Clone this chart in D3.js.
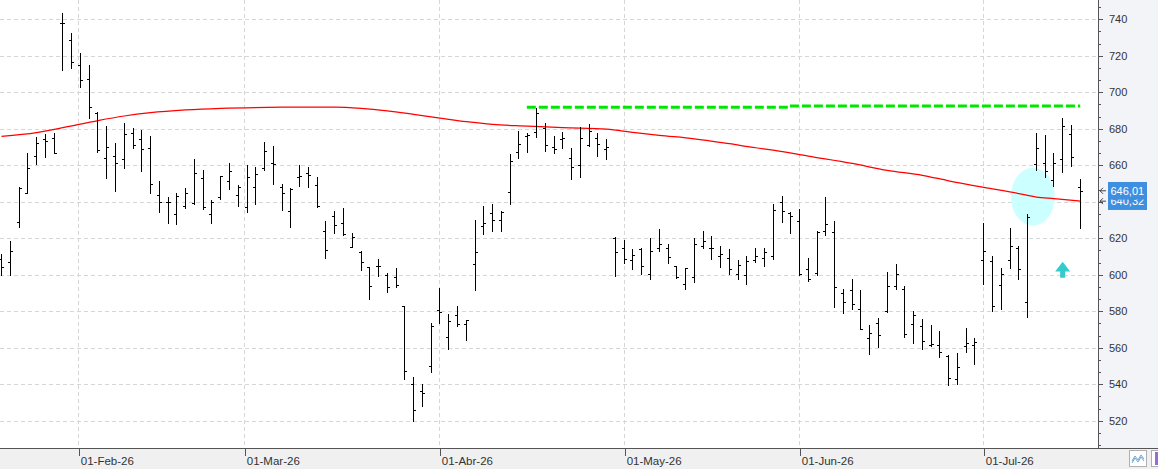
<!DOCTYPE html>
<html><head><meta charset="utf-8">
<script src="https://cdn.jsdelivr.net/npm/d3@7"></script>
<style>html,body{margin:0;padding:0;background:#f0f0f0;overflow:hidden}svg{display:block}</style>
</head><body><svg id="c" width="1158" height="469"></svg>
<script>
// ---- data ----
const opens=[608.4,606.8,629.1,645.0,665.1,674.2,674.8,737.8,728.7,714.8,707.1,688.5,663.8,665.1,663.3,677.5,674.2,669.6,643.7,639.7,633.3,637.9,639.5,652.8,633.3,642.8,651.4,643.5,637.1,647.9,658.3,661.1,647.9,634.9,653.6,655.8,649.0,623.8,632.2,628.2,615.2,612.3,604.2,605.0,599.7,598.9,583.0,539.9,536.3,549.8,580.7,565.7,577.9,573.2,605.9,626.5,634.0,629.8,645.2,667.1,676.0,678.1,680.6,670.2,674.6,664.0,660.1,670.9,675.1,668.9,619.9,614.6,608.1,613.9,600.4,614.6,614.8,604.8,594.9,598.8,615.6,614.8,610.3,609.2,600.4,599.8,608.1,609.0,610.3,640.0,634.0,629.4,603.3,600.8,624.1,623.4,590.2,591.4,581.0,565.1,573.7,579.9,594.0,592.0,573.0,571.9,561.7,561.3,555.4,542.7,560.9,561.5,608.1,607.5,594.2,608.3,614.6,585.0,660.5,661.4,651.9,663.6,677.1,648.1];
const highs=[611.4,618.7,648.3,666.7,675.7,677.0,677.5,743.7,732.7,721.7,715.0,689.0,681.5,672.0,683.2,680.6,679.3,676.0,651.4,642.4,645.0,647.4,663.3,657.4,641.0,654.1,661.1,649.0,660.1,659.1,672.8,670.7,649.9,647.7,660.1,659.2,653.6,629.4,634.9,636.6,623.1,612.8,604.2,608.6,601.1,603.7,583.0,543.9,539.9,573.5,592.9,578.5,582.9,575.4,630.0,637.7,638.9,634.9,666.2,678.8,677.7,691.2,683.4,675.9,678.2,669.5,681.0,682.6,677.9,674.2,620.5,619.0,614.1,614.5,619.9,625.1,616.8,604.8,603.5,619.9,624.0,621.2,615.6,614.3,608.1,610.3,614.5,614.5,638.8,643.2,634.6,636.0,609.2,624.1,642.6,629.4,592.2,597.8,591.6,572.4,576.1,601.5,606.1,594.0,580.3,575.7,572.4,569.1,556.2,557.3,570.8,565.3,628.5,610.3,603.9,625.6,615.7,633.1,677.9,676.8,666.7,686.1,682.3,652.5];
const lows=[599.8,599.8,626.3,644.6,660.7,664.7,666.5,712.2,713.5,703.1,686.1,667.5,653.2,646.1,658.7,669.6,657.0,645.0,634.6,628.5,628.0,636.8,638.8,635.8,628.5,641.5,647.2,637.9,634.6,638.6,657.6,649.9,635.7,626.3,648.8,648.1,636.9,609.3,623.1,621.6,615.0,602.4,586.9,599.1,590.7,593.5,543.0,520.0,528.2,546.9,573.7,559.5,572.1,564.4,591.8,622.5,624.1,624.1,638.9,664.2,667.5,675.3,668.0,666.9,669.6,652.7,653.8,670.7,665.3,663.6,599.3,606.2,603.0,600.2,597.8,613.2,606.2,598.0,592.4,596.2,614.8,608.8,604.0,600.2,597.5,594.7,606.8,605.0,608.8,629.1,623.1,599.8,596.6,600.0,622.0,582.5,579.2,581.0,570.4,556.7,560.4,579.6,592.0,566.0,562.8,559.5,560.9,555.1,539.7,540.1,557.6,551.2,594.9,580.3,581.2,603.5,597.8,577.0,657.4,653.8,648.8,656.5,659.8,625.8];
const closes=[604.4,613.0,647.4,658.3,672.0,673.1,666.5,737.8,716.6,706.6,691.8,668.4,670.2,661.1,677.0,670.9,668.7,649.7,639.7,639.7,643.2,644.8,655.6,637.3,639.7,654.1,656.9,648.3,653.6,655.2,667.6,660.7,644.8,647.0,654.1,654.5,637.7,613.6,627.1,622.3,620.5,607.0,593.8,605.0,593.3,594.5,547.2,525.8,535.0,571.9,579.7,574.6,573.0,575.0,612.3,628.4,629.8,634.4,662.2,671.5,676.4,688.5,670.9,669.1,674.9,658.9,675.1,678.8,671.7,669.8,612.3,608.6,611.0,604.6,613.0,616.7,609.7,598.6,603.5,616.8,618.5,614.8,611.2,603.1,605.1,607.3,610.1,612.3,635.3,635.1,632.4,600.2,597.5,623.2,627.8,593.1,584.9,584.1,570.4,568.2,566.8,593.8,600.2,567.3,577.7,563.5,562.0,557.5,543.2,549.4,562.6,563.3,613.0,582.9,600.4,615.6,603.3,631.6,669.5,656.7,661.4,681.5,664.5,646.01];
// moving average (bar index -> value)
const maIdx=[1,5,10,12,15,18,22,26,33,39,42,45,48,51,54,57,61,65,70,73,76,80,84,87,89,93,98,102,106,109,113,117,119,121,124];
const maVal=[675.8,677.9,682.6,684.5,687.0,688.8,690.3,691.2,691.8,691.9,691.2,689.8,687.9,685.9,683.9,682.4,681.5,680.6,679.8,678.0,676.4,674.5,671.8,669.6,668.3,665.0,661.0,657.2,654.5,651.5,647.9,644.5,642.6,641.7,640.32];
// resistance (green dashed) segments
const resFrom=[60.9,90.9], resTo=[90.9,124], resVal=[691.8,692.5];
// month ticks (position in bar index space)
const monthLabels=["01-Feb-26","01-Mar-26","01-Abr-26","01-May-26","01-Jun-26","01-Jul-26"];
const monthPos=[9.76,28.68,50.92,72.0,91.97,112.95];
const yTicks=[520,540,560,580,600,620,640,660,680,700,720,740];
const lastPrice=646.01, lastMA=640.32;
const hlCenterIdx=118.6, hlCenterVal=642.8, hlHalfBars=2.5, hlHalfVal=15.8;
const arrowIdx=122.0, arrowLow=598.4, arrowHigh=607.1;

// ---- layout ----
const W=1158,H=469,plotR=1098,plotB=448;
const svg=d3.select('#c');
const x=d3.scaleLinear().domain([1,124]).range([1.5,1080.2]);
const y=d3.scaleLinear().domain([520,740]).range([420.7,19.3]);
const FONT='"Liberation Sans", Arial, sans-serif';

svg.append('rect').attr('width',W).attr('height',H).attr('fill','#f0f0f0');
svg.append('rect').attr('x',plotR).attr('width',W-plotR).attr('height',plotB).attr('fill','#f3f4f7');
svg.append('rect').attr('width',plotR).attr('height',plotB).attr('fill','#ffffff');

// grid
const grid=svg.append('g').attr('shape-rendering','crispEdges').attr('stroke','#d6d6d6').attr('stroke-dasharray','4,3');
grid.selectAll('line.h').data(yTicks).join('line').attr('class','h')
  .attr('x1',0).attr('x2',plotR).attr('y1',d=>Math.round(y(d))+0.5).attr('y2',d=>Math.round(y(d))+0.5);
grid.selectAll('line.v').data(monthPos).join('line').attr('class','v')
  .attr('y1',0).attr('y2',plotB).attr('x1',d=>Math.round(x(d))+0.5).attr('x2',d=>Math.round(x(d))+0.5);

// highlight ellipse
svg.append('ellipse')
  .attr('cx',x(hlCenterIdx)).attr('cy',y(hlCenterVal))
  .attr('rx',x(hlCenterIdx+hlHalfBars)-x(hlCenterIdx))
  .attr('ry',y(hlCenterVal-hlHalfVal)-y(hlCenterVal))
  .attr('fill','#ccffff');

// moving average
svg.append('path').datum(maIdx.map((d,i)=>[d,maVal[i]]))
  .attr('d',d3.line().x(d=>x(d[0])).y(d=>y(d[1])).curve(d3.curveMonotoneX))
  .attr('fill','none').attr('stroke','#ff0000').attr('stroke-width',1.25);

// OHLC bars
const bars=opens.map((o,i)=>({i:i+1,o,h:highs[i],l:lows[i],c:closes[i]}));
svg.append('g').attr('shape-rendering','crispEdges')
  .selectAll('path').data(bars).join('path')
  .attr('d',d=>{
    const px=Math.round(x(d.i)-0.5);
    const yh=Math.round(y(d.h)), yl=Math.round(y(d.l));
    const yo=Math.round(y(d.o))+0.5, yc=Math.round(y(d.c))+0.5;
    return `M${px+0.5},${yh}V${yl+1}M${px-2},${yo}H${px}M${px+1},${yc}H${px+3}`;
  })
  .attr('stroke','#000').attr('stroke-width',1).attr('fill','none');

// resistance line
svg.append('g').selectAll('line').data(resVal).join('line')
  .attr('x1',(d,i)=>x(resFrom[i])).attr('x2',(d,i)=>x(resTo[i]))
  .attr('y1',d=>y(d)).attr('y2',d=>y(d))
  .attr('stroke','#00e600').attr('stroke-width',3).attr('stroke-dasharray','9,3');

// arrow
{
  const cx=x(arrowIdx), yt=y(arrowHigh), yb=y(arrowLow);
  const hh=(yb-yt)*0.62;
  svg.append('path')
    .attr('d',`M${cx},${yt}L${cx+7.5},${yt+hh}L${cx+2.5},${yt+hh}L${cx+2.5},${yb}L${cx-2.5},${yb}L${cx-2.5},${yt+hh}L${cx-7.5},${yt+hh}Z`)
    .attr('fill','#33cccc');
}

// right axis
const minorTicks=d3.range(0,37).map(k=>506.6667+k*20/3).filter(v=>!yTicks.some(t=>Math.abs(t-v)<0.01));
svg.append('line').attr('x1',plotR+0.5).attr('x2',plotR+0.5).attr('y1',0).attr('y2',plotB)
  .attr('stroke','#555').attr('shape-rendering','crispEdges');
const yAxisMajor=d3.axisRight(y).tickValues(yTicks).tickSize(5).tickPadding(6).tickFormat(d3.format('d'));
const gy=svg.append('g').attr('transform',`translate(${plotR},0)`).call(yAxisMajor);
gy.select('.domain').remove();
gy.selectAll('line').attr('stroke','#555').attr('shape-rendering','crispEdges');
gy.selectAll('text').attr('fill','#333').style('font-family',FONT).style('font-size','11px');
const gyMinor=svg.append('g').attr('transform',`translate(${plotR},0)`)
  .call(d3.axisRight(y).tickValues(minorTicks).tickSize(3).tickFormat(''));
gyMinor.select('.domain').remove();
gyMinor.selectAll('line').attr('stroke','#555').attr('shape-rendering','crispEdges');

// price tags (the moving-average tag sits partly under the price tag, as in the reference)
[{v:lastMA},{v:lastPrice}].forEach(p=>{
  const cy=y(p.v);
  svg.append('path').attr('d',`M${plotR+2},${cy}H${plotR+8}M${plotR+5},${cy-3}L${plotR+2},${cy}L${plotR+5},${cy+3}`)
    .attr('stroke','#444').attr('fill','none').attr('stroke-width',1);
  svg.append('rect').attr('x',1108).attr('y',cy-8.8).attr('width',39).attr('height',17.6).attr('fill','#3f8fe0');
  svg.append('text').attr('x',1110.5).attr('y',cy).attr('dy','0.35em').text(d3.format('.2f')(p.v).replace('.',','))
    .attr('fill','#fff').style('font-family',FONT).style('font-size','11px');
});

// bottom axis
svg.append('line').attr('x1',0).attr('x2',W).attr('y1',plotB+0.5).attr('y2',plotB+0.5)
  .attr('stroke','#555').attr('shape-rendering','crispEdges');
const gx=svg.append('g').attr('transform',`translate(0,${plotB})`)
  .call(d3.axisBottom(x).tickValues(monthPos).tickSize(8).tickPadding(1).tickFormat((d,i)=>monthLabels[i]));
gx.select('.domain').remove();
gx.selectAll('.tick line').attr('stroke','#555').attr('shape-rendering','crispEdges')
  .attr('transform',function(){return 'translate(0.5,0)';});
gx.selectAll('text').attr('text-anchor','start').attr('x',2).attr('fill','#333')
  .style('font-family',FONT).style('font-size','11.5px');

// bottom-right icons
svg.append('rect').attr('x',1129.5).attr('y',450.5).attr('width',17).attr('height',16).attr('fill','#fff').attr('stroke','#b0b0b0');
svg.append('path').attr('d','M1132,461L1135,456L1138,460L1141,455L1144,459M1132,463L1135,458L1138,462L1141,457L1144,461')
  .attr('fill','none').attr('stroke','#6aa6d8').attr('stroke-width',1);
svg.append('rect').attr('x',1151.5).attr('y',450.5).attr('width',17).attr('height',16).attr('fill','#fff').attr('stroke','#b0b0b0');
svg.append('rect').attr('x',1155).attr('y',452).attr('width',6).attr('height',13).attr('fill','#9b6ad6');
</script></body></html>
